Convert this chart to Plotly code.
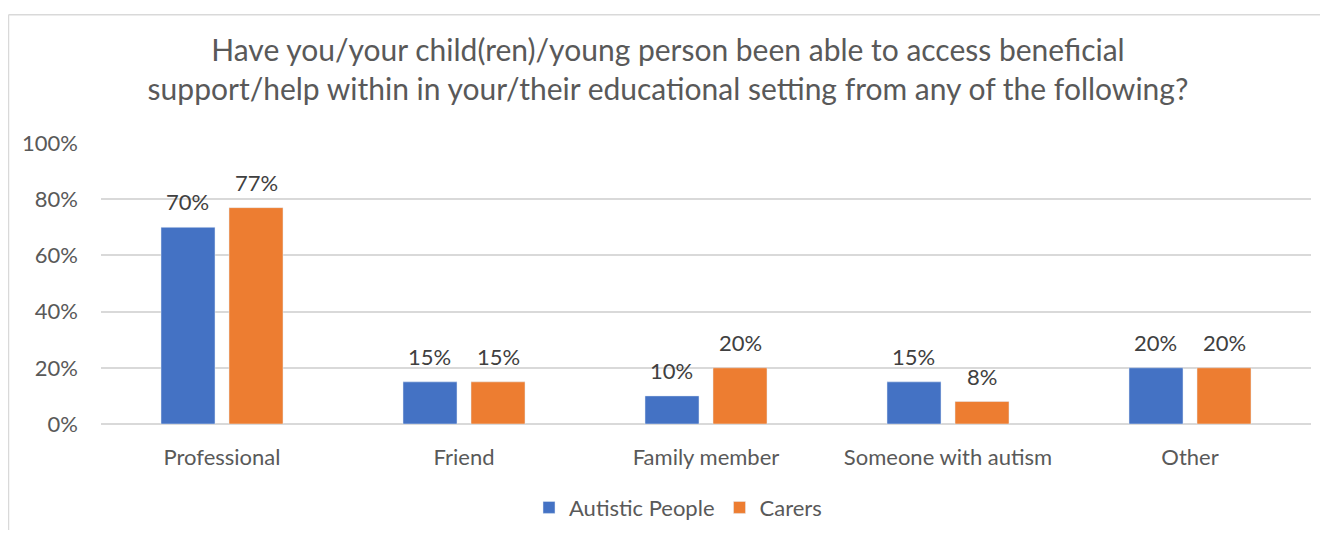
import plotly.graph_objects as go

categories = ["Professional", "Friend", "Family member", "Someone with autism", "Other"]
autistic = [0.70, 0.15, 0.10, 0.15, 0.20]
carers = [0.77, 0.15, 0.20, 0.08, 0.20]
series_names = ["Autistic People", "Carers"]
y_ticks = [0, 0.2, 0.4, 0.6, 0.8, 1.0]
y_tick_labels = ["0%", "20%", "40%", "60%", "80%", "100%"]
title_text = ("Have you/your child(ren)/young person been able to access beneficial<br>"
              "support/help within in your/their educational setting from any of the following?")

FONT = "Lato, 'Open Sans', sans-serif"
GREY = "#595959"
COLORS = ["#4472C4", "#ED7D31"]
W, H = 1320, 533
ML, MR, MT, MB = 93, 17, 135, 109
PW, PH = W - ML - MR, H - MT - MB

fig = go.Figure()
for name, vals, col in [(series_names[0], autistic, COLORS[0]), (series_names[1], carers, COLORS[1])]:
    fig.add_trace(go.Bar(
        x=categories, y=vals, name=name,
        marker=dict(color=col),
        hoverinfo="x+y",
    ))

# data labels above the bars
slot = PW / len(categories) * (1 - 0.438) / 2
for i, vals in enumerate([autistic, carers]):
    shift = (i - 0.5) * slot
    for c, v in zip(categories, vals):
        fig.add_annotation(x=c, y=v, text=f"{round(v * 100)}%", showarrow=False,
                           xshift=shift, yshift=10, yanchor="bottom",
                           font=dict(size=22, color="#404040", family=FONT))

fig.update_layout(
    width=W, height=H,
    margin=dict(l=ML, r=MR, t=MT, b=MB),
    paper_bgcolor="white", plot_bgcolor="white",
    barmode="group", bargap=0.438, bargroupgap=0.206,
    title=dict(text=title_text, x=0.5, xanchor="center", y=1 - 53 / H, yanchor="middle",
               font=dict(size=30, color=GREY, family=FONT)),
    font=dict(family=FONT, color=GREY),
    xaxis=dict(showgrid=False, tickfont=dict(size=22, color=GREY), showline=False, ticks="",
               ticklabelstandoff=18),
    yaxis=dict(range=[0, 1.0], tickvals=y_ticks, ticktext=y_tick_labels,
               tickfont=dict(size=22, color=GREY), showgrid=True, gridcolor="#d9d9d9",
               gridwidth=1.5, zeroline=True, zerolinecolor="#d9d9d9", zerolinewidth=1.5,
               ticklabelstandoff=22),
    legend=dict(orientation="h", x=(670 - ML) / PW, xanchor="center", y=-(510 - (H - MB)) / PH,
                yanchor="middle", font=dict(size=22, color=GREY), itemwidth=30),
    showlegend=True,
)

# outer chart border (top and left visible)
top = 1 + (MT - 3) / PH
left = -(ML - 0.5) / PW
fig.add_shape(type="line", xref="paper", yref="paper", x0=left, x1=1 + MR / PW, y0=top, y1=top,
              line=dict(color="#d9d9d9", width=1.5))
fig.add_shape(type="line", xref="paper", yref="paper", x0=left, x1=left, y0=top, y1=-MB / PH,
              line=dict(color="#d9d9d9", width=1.5))

fig.write_html("out.html")
